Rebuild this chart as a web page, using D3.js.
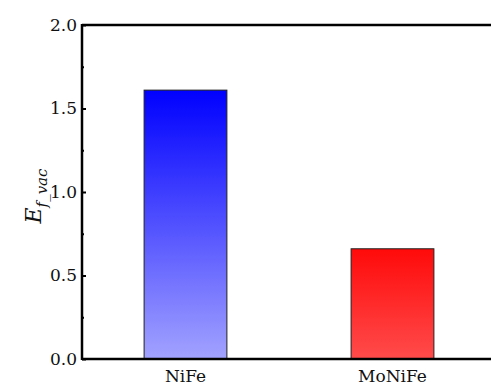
<!DOCTYPE html>
<html>
<head>
<meta charset="utf-8">
<script src="https://cdn.jsdelivr.net/npm/d3@7/dist/d3.min.js"></script>
<style>
  html, body { margin: 0; padding: 0; background: #fff; }
  svg { display: block; }
</style>
</head>
<body>
<svg id="chart" width="491" height="387"></svg>
<script>
// Vacancy formation energy per alloy
const categories = ["NiFe", "MoNiFe"];
const values = [1.61, 0.66];
const yTicks = [0.0, 0.5, 1.0, 1.5, 2.0];
const yMinorTicks = [0.25, 0.75, 1.25, 1.75];
const gradTop = ["#0000ff", "#ff0a0a"];
const gradBottom = ["#a2a2ff", "#ff4b4b"];

const fontStack = '"DejaVu Serif", serif';
const svg = d3.select("#chart");
const plotLeft = 82, plotTop = 25, plotBottom = 359, plotRight = 496;

// Categories sit at 1 and 2 on a linear 0.5..2.5 range
const x = d3.scaleLinear().domain([0.5, 2.5]).range([plotLeft, plotRight]);
const y = d3.scaleLinear().domain([0, 2]).range([plotBottom, plotTop]);
const barW = x(1.2) - x(0.8);

const defs = svg.append("defs");
categories.forEach((c, i) => {
  const g = defs.append("linearGradient")
    .attr("id", "grad" + i)
    .attr("x1", 0).attr("y1", 0).attr("x2", 0).attr("y2", 1);
  g.append("stop").attr("offset", "0%").attr("stop-color", gradTop[i]);
  g.append("stop").attr("offset", "100%").attr("stop-color", gradBottom[i]);
});

// Bars
svg.append("g").selectAll("rect")
  .data(values)
  .join("rect")
  .attr("x", (d, i) => x(i + 1) - barW / 2)
  .attr("y", d => y(d))
  .attr("width", barW)
  .attr("height", d => y(0) - y(d))
  .attr("fill", (d, i) => `url(#grad${i})`)
  .attr("stroke", "#222")
  .attr("stroke-width", 1);

// Y axis with inward ticks
const yAxis = d3.axisRight(y)
  .tickValues(yTicks)
  .tickSize(4)
  .tickFormat("");
const yMinor = d3.axisRight(y)
  .tickValues(yMinorTicks)
  .tickSize(2)
  .tickFormat("");
const ga = svg.append("g").attr("transform", `translate(${plotLeft},0)`).call(yAxis);
const gm = svg.append("g").attr("transform", `translate(${plotLeft},0)`).call(yMinor);
[ga, gm].forEach(g => {
  g.select(".domain").remove();
  g.selectAll("line").attr("stroke", "#000").attr("stroke-width", 2);
});

// Tick labels
svg.append("g").selectAll("text")
  .data(yTicks)
  .join("text")
  .style("font-family", fontStack)
  .attr("x", plotLeft - 5)
  .attr("y", d => y(d))
  .attr("dy", "0.35em")
  .attr("text-anchor", "end")
  .style("font-size", "17px")
  .attr("fill", "#111")
  .text(d => d3.format(".1f")(d));

// Frame: left, top, bottom lines
svg.append("line").attr("x1", plotLeft).attr("x2", plotLeft).attr("y1", plotTop - 1).attr("y2", plotBottom + 1)
  .attr("stroke", "#000").attr("stroke-width", 2.5);
svg.append("line").attr("x1", plotLeft).attr("x2", plotRight).attr("y1", plotTop).attr("y2", plotTop)
  .attr("stroke", "#000").attr("stroke-width", 2.5);
svg.append("line").attr("x1", plotLeft).attr("x2", plotRight).attr("y1", plotBottom).attr("y2", plotBottom)
  .attr("stroke", "#000").attr("stroke-width", 2.5);

// Category labels
svg.append("g").selectAll("text")
  .data(categories)
  .join("text")
  .style("font-family", fontStack)
  .attr("x", (d, i) => x(i + 1))
  .attr("y", plotBottom + 23)
  .attr("text-anchor", "middle")
  .style("font-size", "17px")
  .attr("fill", "#111")
  .text(d => d);

// Y axis title: E with subscript f_vac
const title = svg.append("text")
  .style("font-family", fontStack)
  .attr("transform", `translate(41,${(plotTop + plotBottom) / 2 + 4}) rotate(-90)`)
  .attr("text-anchor", "middle")
  .style("font-size", "22px")
  .style("font-style", "italic")
  .attr("fill", "#111");
title.append("tspan").text("E");
title.append("tspan").style("font-size", "15px").attr("dy", 6).text("f_vac");
</script>
</body>
</html>
